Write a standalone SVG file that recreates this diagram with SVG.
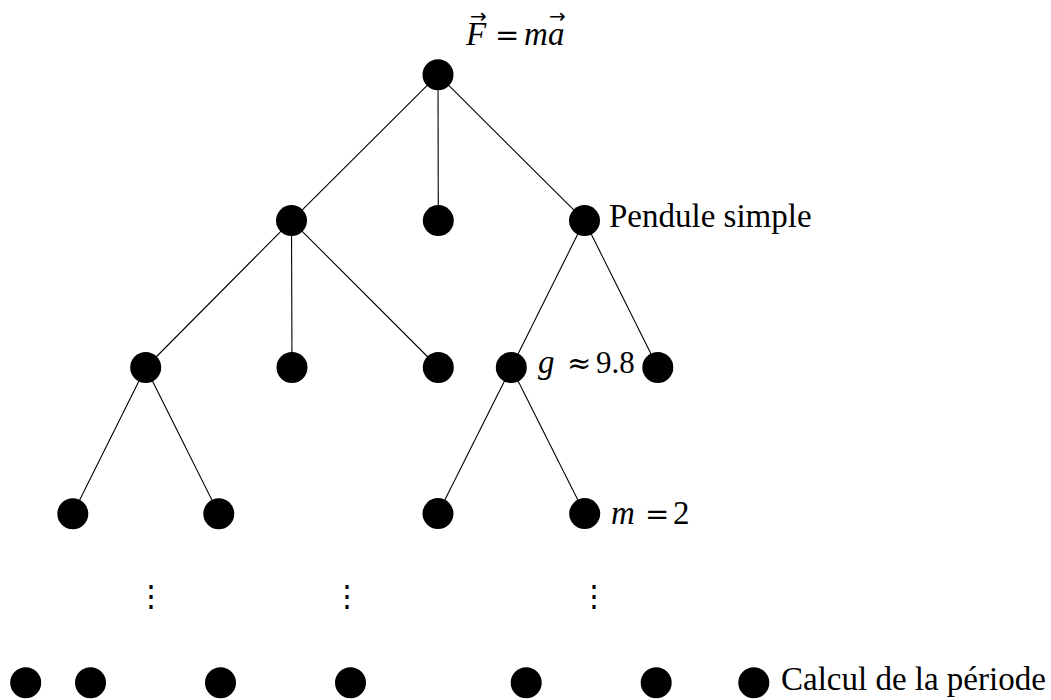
<svg xmlns="http://www.w3.org/2000/svg" width="1051" height="700" viewBox="0 0 1051 700">
<style>
.n{fill:#000}
.e{stroke:#000;stroke-width:1.1;fill:none}
.t{font-family:"Liberation Serif",serif;font-size:33px;fill:#000}
.m{font-family:"Liberation Serif",serif;font-size:33px;font-style:italic;fill:#000}
.r{font-family:"DejaVu Serif","Liberation Serif",serif;font-size:29px;font-style:normal}
.v{font-family:"DejaVu Sans",sans-serif;font-size:20px;font-style:normal}
.d{font-family:"DejaVu Serif",serif;font-size:30px;fill:#000}
</style>
<rect width="1051" height="700" fill="#fff"/>
<g id="edges">
<line class="e" x1="438" y1="74.7" x2="291.5" y2="220.6"/>
<line class="e" x1="438" y1="74.7" x2="438.3" y2="220.6"/>
<line class="e" x1="438" y1="74.7" x2="584.5" y2="220.6"/>
<line class="e" x1="291.5" y1="220.6" x2="145.7" y2="367.5"/>
<line class="e" x1="291.5" y1="220.6" x2="292" y2="367.5"/>
<line class="e" x1="291.5" y1="220.6" x2="438.3" y2="367.5"/>
<line class="e" x1="584.5" y1="220.6" x2="511.3" y2="367.5"/>
<line class="e" x1="584.5" y1="220.6" x2="657.8" y2="367.5"/>
<line class="e" x1="145.7" y1="367.5" x2="72.8" y2="513.8"/>
<line class="e" x1="145.7" y1="367.5" x2="218.8" y2="513.8"/>
<line class="e" x1="511.3" y1="367.5" x2="438" y2="513.6"/>
<line class="e" x1="511.3" y1="367.5" x2="584.7" y2="513.6"/>
</g>
<g id="root"><circle class="n" cx="438" cy="74.7" r="15.5"/>
<text class="m"><tspan x="466" y="45">F</tspan><tspan class="v" x="470" y="23">→</tspan><tspan class="r" x="495" y="45">=</tspan><tspan x="524" y="45">m</tspan><tspan x="548" y="45">a</tspan><tspan class="v" x="549" y="23">→</tspan></text>
</g>
<g id="n1a"><circle class="n" cx="291.5" cy="220.6" r="15.5"/></g>
<g id="n1b"><circle class="n" cx="438.3" cy="220.6" r="15.5"/></g>
<g id="n1c"><circle class="n" cx="584.5" cy="220.6" r="15.5"/><text class="t" x="609" y="227">Pendule simple</text></g>
<g id="n2a"><circle class="n" cx="145.7" cy="367.5" r="15.5"/></g>
<g id="n2b"><circle class="n" cx="292" cy="367.5" r="15.5"/></g>
<g id="n2c"><circle class="n" cx="438.3" cy="367.5" r="15.5"/></g>
<g id="n2d"><circle class="n" cx="511.3" cy="367.5" r="15.5"/>
<text class="m"><tspan x="538" y="373">g</tspan><tspan class="r" x="567" y="373" font-size="31">≈</tspan><tspan x="596" y="373" font-style="normal" font-size="31">9.8</tspan></text></g>
<g id="n2e"><circle class="n" cx="657.8" cy="367.5" r="15.5"/></g>
<g id="n3a"><circle class="n" cx="72.8" cy="513.8" r="15.5"/></g>
<g id="n3b"><circle class="n" cx="218.8" cy="513.8" r="15.5"/></g>
<g id="n3c"><circle class="n" cx="438" cy="513.6" r="15.5"/></g>
<g id="n3d"><circle class="n" cx="584.7" cy="513.6" r="15.5"/>
<text class="m"><tspan x="611" y="524">m</tspan><tspan class="r" x="645" y="524">=</tspan><tspan x="673" y="524" font-style="normal">2</tspan></text></g>
<g id="dots">
<text class="d" x="151" y="606" text-anchor="middle">⋮</text>
<text class="d" x="346.7" y="606" text-anchor="middle">⋮</text>
<text class="d" x="594" y="606" text-anchor="middle">⋮</text>
</g>
<g id="b1"><circle class="n" cx="25.7" cy="682.8" r="15.5"/></g>
<g id="b2"><circle class="n" cx="90.5" cy="682.8" r="15.5"/></g>
<g id="b3"><circle class="n" cx="220.5" cy="682.8" r="15.5"/></g>
<g id="b4"><circle class="n" cx="350.5" cy="682.8" r="15.5"/></g>
<g id="b5"><circle class="n" cx="526.2" cy="682.8" r="15.5"/></g>
<g id="b6"><circle class="n" cx="656.2" cy="682.8" r="15.5"/></g>
<g id="b7"><circle class="n" cx="753.8" cy="682.8" r="15.5"/><text class="t" x="781" y="690">Calcul de la période</text></g>
</svg>
